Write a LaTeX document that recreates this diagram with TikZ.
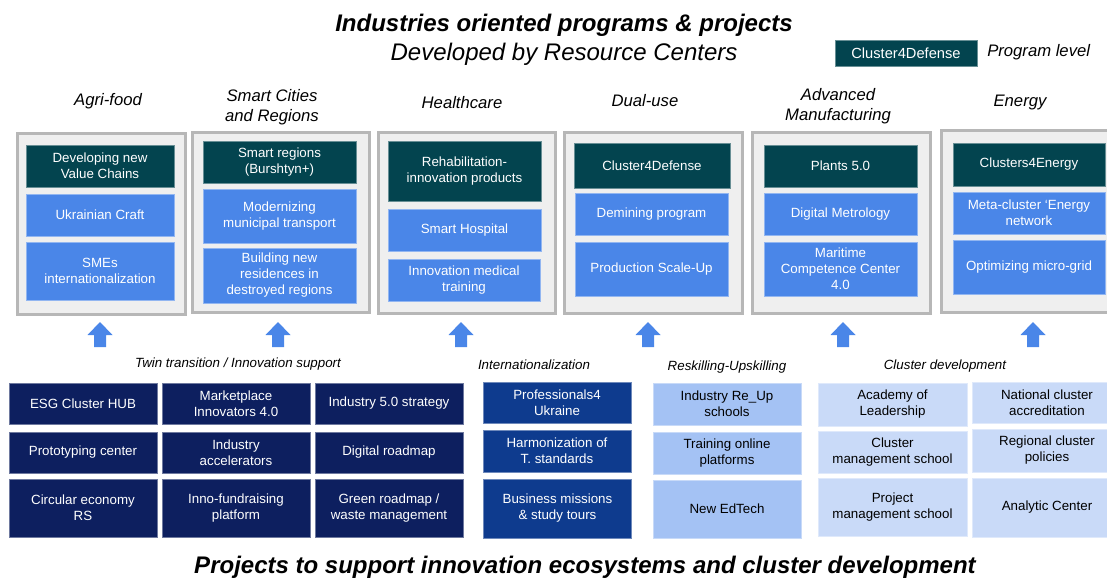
\documentclass[tikz,border=0pt]{standalone}
\usepackage{fontspec}
\setmainfont{Liberation Sans}
\definecolor{progteal}{HTML}{03444F}
\definecolor{projblue}{HTML}{4A86E8}
\definecolor{twinnavy}{HTML}{0D1F5F}
\definecolor{intlblue}{HTML}{0E3B8E}
\definecolor{reskillblue}{HTML}{A4C2F4}
\definecolor{clustblue}{HTML}{C9DAF8}
\definecolor{panelgray}{HTML}{EFEFEF}
\definecolor{panelline}{HTML}{B7B7B7}
\begin{document}
\begin{tikzpicture}[x=0.75pt,y=-0.75pt,
  wh/.style 2 args={minimum width=#1*0.75pt,minimum height=#2*0.75pt},
  box/.style={align=center,inner sep=0pt,font=\fontsize{10}{12}\selectfont},
  catbox/.style={fill=panelgray,draw=panelline,line width=2.25pt,inner sep=0pt},
  progbox/.style={box,fill=progteal,draw=progteal!60!white,line width=0.5pt,text=white},
  projbox/.style={box,fill=projblue,draw=projblue!60!white,line width=0.5pt,text=white},
  twinbox/.style={box,fill=twinnavy,draw=twinnavy!60!white,line width=0.5pt,text=white},
  intlbox/.style={box,fill=intlblue,draw=intlblue!60!white,line width=0.5pt,text=white},
  reskillbox/.style={box,fill=reskillblue,draw=reskillblue!60!white,line width=0.5pt,text=black},
  clustbox/.style={box,fill=clustblue,draw=clustblue!60!white,line width=0.5pt,text=black},
  catlabel/.style={align=center,inner sep=0pt,font=\fontsize{12.5}{15}\selectfont\itshape},
  grouplabel/.style={inner sep=0pt,font=\fontsize{10}{12}\selectfont\itshape},
  bigtitle/.style={inner sep=0pt,font=\fontsize{18}{22}\selectfont\bfseries\itshape}]
\useasboundingbox (0,0) rectangle (1107,579);
\node[bigtitle,anchor=base] (title) at (564,31) {Industries oriented programs \& projects};
\node[inner sep=0pt,font=\fontsize{18}{22}\selectfont\itshape,anchor=base] (subtitle) at (564,60) {Developed by Resource Centers};
\node[progbox,wh={142}{26},font=\fontsize{11}{13}\selectfont] (legbox) at (906,53) {Cluster4Defense};
\node[inner sep=0pt,font=\fontsize{12.5}{15}\selectfont\itshape,anchor=west] (leglabel) at (987,52) {Program level};

\node[catlabel] (agrilbl) at (108,101) {Agri-food};
\node[catlabel] (smartlbl) at (272,107) {Smart Cities\\and Regions};
\node[catlabel] (heallbl) at (462,103) {Healthcare};
\node[catlabel] (duallbl) at (645,101) {Dual-use};
\node[catlabel] (manulbl) at (838,106) {Advanced\\Manufacturing};
\node[catlabel] (enerlbl) at (1020,102) {Energy};

\node[catbox,wh={168}{181}] (agri) at (101,223.5) {};
\node[catbox,wh={177}{180}] (smart) at (280.5,222) {};
\node[catbox,wh={177}{181}] (heal) at (466.5,222.5) {};
\node[catbox,wh={178}{181}] (dual) at (653,222.5) {};
\node[catbox,wh={178}{181}] (manu) at (841,222.5) {};
\node[catbox,wh={178}{182}] (ener) at (1030,221) {};

\node[progbox,wh={148}{42}] (agri1) at (100,166) {Developing new\\Value Chains};
\node[projbox,wh={148}{42}] (agri2) at (100,215) {Ukrainian Craft};
\node[projbox,wh={148}{58}] (agri3) at (100,271) {SMEs\\internationalization};

\node[progbox,wh={153}{42}] (smart1) at (279.5,162) {Smart regions\\(Burshtyn+)};
\node[projbox,wh={153}{54}] (smart2) at (279.5,216) {Modernizing\\municipal transport};
\node[projbox,wh={153}{55}] (smart3) at (279.5,275.5) {Building new\\residences in\\destroyed regions};

\node[progbox,wh={153}{60}] (heal1) at (464.5,171) {Rehabilitation-\\innovation products};
\node[projbox,wh={153}{42}] (heal2) at (464.5,230) {Smart Hospital};
\node[projbox,wh={152}{42}] (heal3) at (464,280) {Innovation medical\\training};

\node[progbox,wh={156}{45}] (dual1) at (652,165.5) {Cluster4Defense};
\node[projbox,wh={153}{42}] (dual2) at (651.5,214) {Demining program};
\node[projbox,wh={153}{54}] (dual3) at (651.5,269) {Production Scale-Up};

\node[progbox,wh={153}{42}] (manu1) at (840.5,166) {Plants 5.0};
\node[projbox,wh={153}{42}] (manu2) at (840.5,214) {Digital Metrology};
\node[projbox,wh={153}{54}] (manu3) at (840.5,269) {Maritime\\Competence Center\\4.0};

\node[progbox,wh={152}{43}] (ener1) at (1029,164.5) {Clusters4Energy};
\node[projbox,wh={152}{42}] (ener2) at (1029,213) {Meta-cluster ‘Energy\\network};
\node[projbox,wh={152}{54}] (ener3) at (1029,267) {Optimizing micro-grid};

\foreach \x in {100,278,461,648,843,1033}
  \fill[projblue] ({\x-6},347) -- ({\x-6},335) -- ({\x-12.5},335) -- (\x,322)
    -- ({\x+12.5},335) -- ({\x+6},335) -- ({\x+6},347) -- cycle;

\node[grouplabel] (twinlbl) at (238,364) {Twin transition / Innovation support};
\node[grouplabel] (intllbl) at (534,365) {Internationalization};
\node[grouplabel] (reskilllbl) at (727,367) {Reskilling-Upskilling};
\node[grouplabel] (clustlbl) at (945,366) {Cluster development};

\node[twinbox,wh={148}{41}] (twin11) at (83,403.5) {ESG Cluster HUB};
\node[twinbox,wh={148}{41}] (twin12) at (236,403.5) {Marketplace\\Innovators 4.0};
\node[twinbox,wh={148}{41}] (twin13) at (389,403.5) {Industry 5.0 strategy};
\node[twinbox,wh={148}{41}] (twin21) at (83,452.5) {Prototyping center};
\node[twinbox,wh={148}{41}] (twin22) at (236,452.5) {Industry\\accelerators};
\node[twinbox,wh={148}{41}] (twin23) at (389,452.5) {Digital roadmap};
\node[twinbox,wh={148}{58}] (twin31) at (83,508) {Circular economy\\RS};
\node[twinbox,wh={148}{58}] (twin32) at (236,508) {Inno-fundraising\\platform};
\node[twinbox,wh={148}{58}] (twin33) at (389,508) {Green roadmap /\\waste management};

\node[intlbox,wh={148}{41}] (intl1) at (557,402.5) {Professionals4\\Ukraine};
\node[intlbox,wh={148}{42}] (intl2) at (557,451) {Harmonization of\\T. standards};
\node[intlbox,wh={148}{59}] (intl3) at (557.5,508.5) {Business missions\\\& study tours};

\node[reskillbox,wh={148}{42}] (reskill1) at (727,404) {Industry Re\_Up\\schools};
\node[reskillbox,wh={148}{42}] (reskill2) at (727,453) {Training online\\platforms};
\node[reskillbox,wh={148}{58}] (reskill3) at (727,509) {New EdTech};

\node[clustbox,wh={149}{43}] (clust11) at (892.5,404.5) {Academy of\\Leadership};
\node[clustbox,wh={149}{42}] (clust21) at (892.5,452) {Cluster\\management school};
\node[clustbox,wh={149}{58}] (clust31) at (892.5,507) {Project\\management school};
\node[clustbox,wh={150}{41}] (clust12) at (1047,402.5) {National cluster\\accreditation};
\node[clustbox,wh={150}{43}] (clust22) at (1047,450.5) {Regional cluster\\policies};
\node[clustbox,wh={150}{59}] (clust32) at (1047,507.5) {Analytic Center};

\node[bigtitle,anchor=base] (bottomtitle) at (585,573) {Projects to support innovation ecosystems and cluster development};
\end{tikzpicture}
\end{document}
